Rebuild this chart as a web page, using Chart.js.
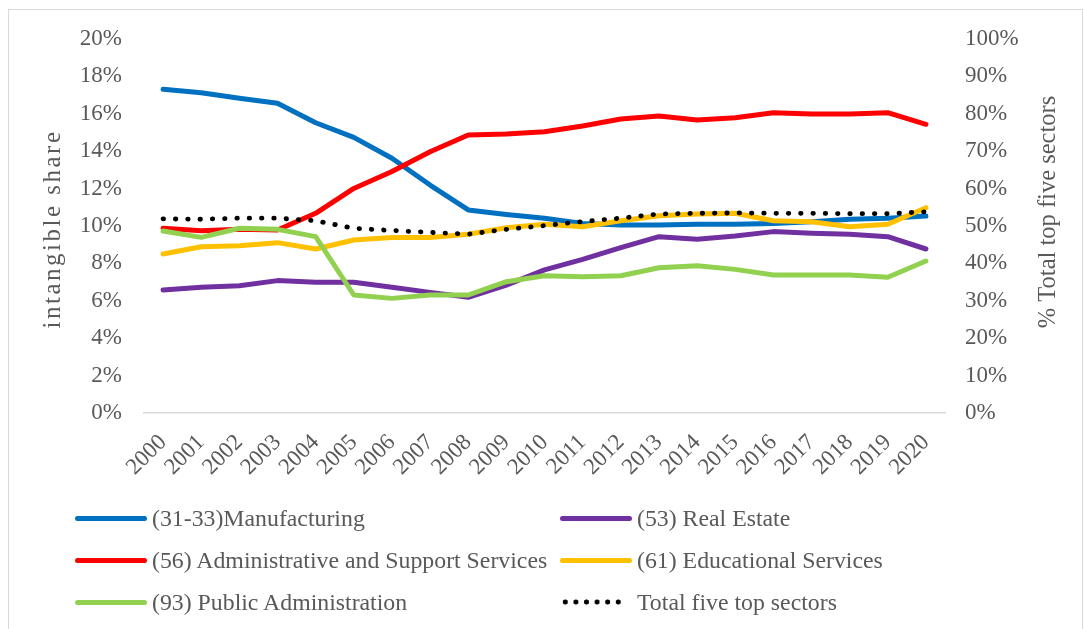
<!DOCTYPE html>
<html>
<head>
<meta charset="utf-8">
<script src="https://cdn.jsdelivr.net/npm/chart.js@4"></script>
<style>
  body { margin: 0; background: #fff; }
  #wrap { position: relative; width: 1085px; height: 629px; overflow: hidden; }
  #frame { position: absolute; left: 8px; top: 9px; width: 1075px; height: 640px; border: 1.5px solid #d9d9d9; box-sizing: border-box; }
  #salesChart { position: absolute; left: 0; top: 0; }
  .leg { position: absolute; display: flex; align-items: center; height: 30px;
         font-family: "Liberation Serif", serif; font-size: 23.8px; color: #595959; white-space: nowrap; }
  .leg .ln { width: 72px; height: 5px; border-radius: 3px; margin-right: 5px; }
  .leg .dots { width: 62px; height: 6px; margin-right: 15px;
               background: radial-gradient(circle, #000 2.3px, transparent 2.8px) 0 0 / 10.6px 6px repeat-x; }
</style>
</head>
<body>
<div id="wrap">
  <div id="frame"></div>
  <canvas id="salesChart" width="1085" height="629"></canvas>
  <div id="legend"></div>
</div>
<script>
const years = ["2000","2001","2002","2003","2004","2005","2006","2007","2008","2009","2010",
               "2011","2012","2013","2014","2015","2016","2017","2018","2019","2020"];

// intangible share, %
const manufacturing = [17.31,17.13,16.83,16.56,15.52,14.74,13.62,12.19,10.86,10.62,10.41,10.14,10.05,10.05,10.09,10.09,10.14,10.23,10.36,10.41,10.53];
const realEstate    = [6.58,6.72,6.81,7.08,6.99,6.99,6.72,6.45,6.19,6.84,7.65,8.22,8.84,9.43,9.29,9.47,9.70,9.61,9.56,9.43,8.77];
const adminSupport  = [9.88,9.75,9.82,9.79,10.68,12.01,12.91,13.97,14.87,14.92,15.04,15.35,15.72,15.88,15.67,15.79,16.06,15.99,15.99,16.06,15.44];
const educational   = [8.50,8.89,8.95,9.11,8.77,9.25,9.39,9.39,9.56,9.91,10.09,9.96,10.28,10.55,10.64,10.68,10.28,10.23,9.96,10.09,10.98];
const publicAdmin   = [9.73,9.39,9.88,9.82,9.43,6.31,6.13,6.31,6.31,7.02,7.34,7.29,7.34,7.77,7.88,7.68,7.38,7.38,7.38,7.26,8.13];
// % total top five sectors (right axis)
const totalFive     = [51.9,51.8,52.1,52.1,51.4,49.4,48.8,48.3,47.8,49.1,50.1,51.2,52.1,53.2,53.4,53.5,53.4,53.4,53.3,53.3,53.8];

const leftTicks = [0,2,4,6,8,10,12,14,16,18,20];
const rightTicks = [0,10,20,30,40,50,60,70,80,90,100];

const labels = [
    "(31-33)Manufacturing",
    "(53) Real Estate",
    "(56) Administrative and Support Services",
    "(61) Educational Services",
    "(93) Public Administration",
    "Total five top sectors"
];
const leftTitle = "intangible share";
const rightTitle = "% Total top five sectors";
const colors = ['#0070C0', '#7030A0', '#FF0000', '#FFC000', '#92D050', '#000000'];
const seriesData = [manufacturing, realEstate, adminSupport, educational, publicAdmin];

const fontFam = '"Liberation Serif", "Times New Roman", serif';
const textColor = '#595959';

const datasets = seriesData.map((d, i) => ({
    label: labels[i],
    data: d,
    borderColor: colors[i],
    backgroundColor: colors[i],
    borderWidth: 5,
    borderCapStyle: 'round',
    borderJoinStyle: 'round',
    pointRadius: 0,
    tension: 0,
    yAxisID: 'y',
    order: 6 - i
}));
datasets.push({
    label: labels[5],
    data: totalFive,
    borderColor: '#000',
    backgroundColor: '#000',
    borderWidth: 4.8,
    borderDash: [0.5, 11.8],
    borderCapStyle: 'round',
    pointRadius: 0,
    yAxisID: 'y1',
    order: 0
});

// both axis titles read bottom-to-top in the original, so draw them here
const axisTitles = {
    id: 'axisTitles',
    afterDraw(chart) {
        const c = chart.ctx;
        c.save();
        c.fillStyle = textColor;
        c.textAlign = 'center';
        c.textBaseline = 'alphabetic';

        c.save();
        c.font = '25px ' + fontFam;
        c.letterSpacing = '2.5px';
        c.translate(60, 229);
        c.rotate(-Math.PI / 2);
        c.fillText(leftTitle, 0, 0);
        c.restore();

        c.save();
        c.font = '24.5px ' + fontFam;
        c.letterSpacing = '0px';
        c.translate(1055, 212);
        c.rotate(-Math.PI / 2);
        c.fillText(rightTitle, 0, 0);
        c.restore();

        c.restore();
    }
};

const ctx = document.getElementById("salesChart");
new Chart(ctx, {
    type: 'line',
    data: { labels: years, datasets: datasets },
    plugins: [axisTitles],
    options: {
        responsive: false,
        animation: false,
        devicePixelRatio: 1,
        layout: { padding: { top: 39, left: 0, right: 0, bottom: 0 } },
        plugins: { legend: { display: false }, tooltip: { enabled: false } },
        scales: {
            x: {
                offset: true,
                grid: { display: false, drawTicks: false },
                border: { display: true, color: '#d9d9d9', width: 1.5 },
                ticks: {
                    color: textColor, font: { family: fontFam, size: 23 },
                    maxRotation: 45, minRotation: 45, autoSkip: false, padding: 16
                },
                afterFit: (s) => { s.height = 216; }
            },
            y: {
                position: 'left',
                min: 0, max: 20,
                afterBuildTicks: (s) => { s.ticks = leftTicks.map(v => ({ value: v })); },
                grid: { display: false, drawTicks: false },
                border: { display: false },
                ticks: {
                    color: textColor, font: { family: fontFam, size: 23 }, padding: 22,
                    callback: (v) => v + '%'
                },
                afterFit: (s) => { s.width = 144; }
            },
            y1: {
                position: 'right',
                min: 0, max: 100,
                afterBuildTicks: (s) => { s.ticks = rightTicks.map(v => ({ value: v })); },
                grid: { display: false, drawTicks: false },
                border: { display: false },
                ticks: {
                    color: textColor, font: { family: fontFam, size: 23 }, padding: 20,
                    callback: (v) => v + '%'
                },
                afterFit: (s) => { s.width = 140; }
            }
        }
    }
});

// legend, two columns like the original
const legendBox = document.getElementById("legend");
const colX = [75, 560];
const rowY = [518, 560, 602];
labels.forEach((lab, i) => {
    const item = document.createElement("div");
    item.className = "leg";
    item.style.left = colX[i % 2] + "px";
    item.style.top = (rowY[Math.floor(i / 2)] - 15) + "px";
    const mark = document.createElement("div");
    if (i === 5) {
        mark.className = "dots";
    } else {
        mark.className = "ln";
        mark.style.background = colors[i];
    }
    const txt = document.createElement("span");
    txt.textContent = lab;
    item.appendChild(mark);
    item.appendChild(txt);
    legendBox.appendChild(item);
});
</script>
</body>
</html>
